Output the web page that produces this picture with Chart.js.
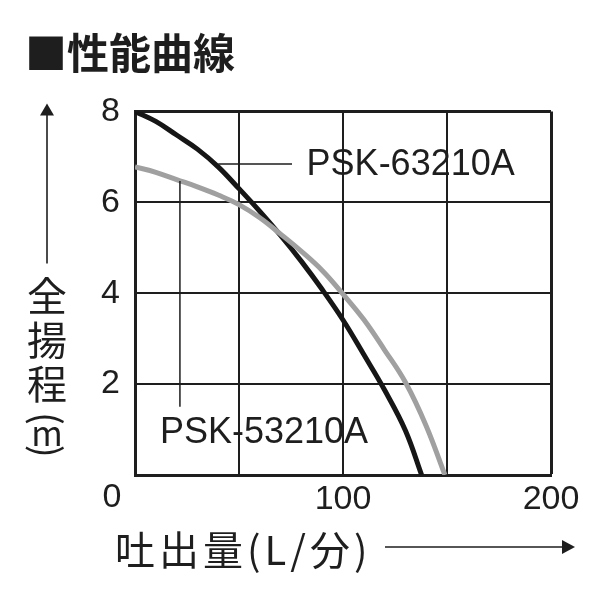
<!DOCTYPE html>
<html lang="ja">
<head>
<meta charset="utf-8">
<title>性能曲線</title>
<script src="https://cdn.jsdelivr.net/npm/chart.js@4.4.1/dist/chart.umd.min.js"></script>
<style>
  html, body { margin: 0; padding: 0; background: #fff; }
  #chart { display: block; }
</style>
</head>
<body>
<canvas id="chart" width="600" height="600"></canvas>
<script>
// 性能曲線 - pump performance curves (head vs. flow)

const seriesNames = ['PSK-63210A', 'PSK-53210A'];

// PSK-63210A (black)
const flow63 = [0, 10, 20, 30, 40, 50, 60, 70, 80, 90, 100, 110, 120, 130, 137.8];
const head63 = [8.0, 7.78, 7.48, 7.17, 6.78, 6.3, 5.8, 5.27, 4.7, 4.08, 3.41, 2.65, 1.87, 0.98, 0];

// PSK-53210A (grey)
const flow53 = [0, 10, 20, 30, 40, 50, 60, 70, 80, 90, 100, 110, 120, 130, 140, 149];
const head53 = [6.78, 6.66, 6.5, 6.34, 6.16, 5.95, 5.66, 5.3, 4.92, 4.5, 3.98, 3.42, 2.75, 2.04, 1.08, 0];

const xTickLabels = [0, 100, 200];
const yTickLabels = [2, 4, 6, 8];

// label anchors, in data units
const leader63 = { x1: 40, x2: 75.5, y: 6.84 };
const label63 = { x: 82.5, y: 6.82 };
const leader53 = { x: 21.6, y1: 6.47, y2: 1.5 };
const label53 = { x: 12, y: 0.92 };

const INK = '#1e1e1e';
const NUM_FONT = '"Liberation Sans", Arial, Helvetica, sans-serif';
const JP_FONT = '"Noto Sans CJK JP", "Noto Sans CJK SC", sans-serif';

function toPoints(xs, ys) {
    return xs.map((v, i) => ({ x: v, y: ys[i] }));
}

const decorations = {
    id: 'decorations',
    afterDatasetsDraw(chart) {
        const { ctx, scales: { x, y } } = chart;
        ctx.save();

        // leader lines
        ctx.strokeStyle = INK;
        ctx.lineWidth = 1.5;
        ctx.beginPath();
        ctx.moveTo(x.getPixelForValue(leader63.x1), y.getPixelForValue(leader63.y));
        ctx.lineTo(x.getPixelForValue(leader63.x2), y.getPixelForValue(leader63.y));
        ctx.moveTo(x.getPixelForValue(leader53.x), y.getPixelForValue(leader53.y1));
        ctx.lineTo(x.getPixelForValue(leader53.x), y.getPixelForValue(leader53.y2));
        ctx.stroke();

        // model names
        ctx.fillStyle = INK;
        ctx.font = '36px ' + NUM_FONT;
        ctx.textAlign = 'left';
        ctx.textBaseline = 'middle';
        ctx.fillText(seriesNames[0], x.getPixelForValue(label63.x), y.getPixelForValue(label63.y));
        ctx.fillText(seriesNames[1], x.getPixelForValue(label53.x), y.getPixelForValue(label53.y));

        ctx.restore();
    },
    afterDraw(chart) {
        const { ctx, chartArea: a } = chart;
        ctx.save();
        ctx.fillStyle = INK;
        ctx.strokeStyle = INK;

        // shared corner "0", set to the left of the origin
        ctx.font = '34px ' + NUM_FONT;
        ctx.textAlign = 'center';
        ctx.textBaseline = 'middle';
        ctx.fillText(String(xTickLabels[0]), a.left - 23, a.bottom + 23);

        // y axis title, stacked vertically
        const yx = a.left - 88;
        ctx.font = '40px ' + JP_FONT;
        ['全', '揚', '程'].forEach((ch, i) => {
            ctx.fillText(ch, yx, a.top + 184 + i * 44);
        });
        ctx.font = '34px ' + JP_FONT;
        ctx.fillText('m', yx, a.top + 322);
        [['(', 307], [')', 340]].forEach(([ch, dy]) => {
            ctx.save();
            ctx.translate(yx, a.top + dy);
            ctx.rotate(Math.PI / 2);
            ctx.font = '38px ' + JP_FONT;
            ctx.fillText(ch, 0, 0);
            ctx.restore();
        });

        // y arrow
        ctx.lineWidth = 1.6;
        ctx.beginPath();
        ctx.moveTo(yx, a.top + 152);
        ctx.lineTo(yx, a.top - 2);
        ctx.stroke();
        ctx.beginPath();
        ctx.moveTo(yx, a.top - 8);
        ctx.lineTo(yx - 7, a.top + 4);
        ctx.lineTo(yx + 7, a.top + 4);
        ctx.closePath();
        ctx.fill();

        // x axis title
        ctx.font = '40px ' + JP_FONT;
        ctx.textAlign = 'left';
        ctx.letterSpacing = '4px';
        ctx.fillText('吐出量(L/分)', a.left - 20, a.bottom + 75);
        ctx.letterSpacing = '0px';

        // x arrow
        const ay = a.bottom + 72;
        ctx.beginPath();
        ctx.moveTo(a.left + 250, ay);
        ctx.lineTo(a.left + 430, ay);
        ctx.stroke();
        ctx.beginPath();
        ctx.moveTo(a.left + 440, ay);
        ctx.lineTo(a.left + 427, ay - 7);
        ctx.lineTo(a.left + 427, ay + 7);
        ctx.closePath();
        ctx.fill();

        ctx.restore();
    }
};

new Chart(document.getElementById('chart'), {
    type: 'line',
    data: {
        datasets: [
            {
                label: seriesNames[1],
                data: toPoints(flow53, head53),
                borderColor: '#a0a0a0',
                borderWidth: 5,
                pointRadius: 0,
                tension: 0.4,
                order: 0
            },
            {
                label: seriesNames[0],
                data: toPoints(flow63, head63),
                borderColor: '#161616',
                borderWidth: 5,
                pointRadius: 0,
                tension: 0.4,
                order: 1
            }
        ]
    },
    options: {
        responsive: false,
        animation: false,
        layout: { padding: { left: 25, right: 49, top: 0, bottom: 0 } },
        plugins: {
            legend: { display: false },
            tooltip: { enabled: false },
            title: {
                display: true,
                text: '■性能曲線',
                align: 'start',
                color: INK,
                font: { family: JP_FONT, size: 42, weight: 'bold' },
                padding: { top: 28, bottom: 33 }
            }
        },
        scales: {
            x: {
                type: 'linear',
                min: 0,
                max: 200,
                afterFit(scale) { scale.height = 125; },
                grid: {
                    color: INK,
                    lineWidth: c => (c.tick && c.tick.value === 200 ? 3 : 2),
                    drawTicks: false
                },
                border: { color: INK, width: 3 },
                ticks: {
                    stepSize: 50,
                    padding: 4,
                    color: INK,
                    font: { family: NUM_FONT, size: 34 },
                    maxRotation: 0,
                    callback: v => (v !== 0 && xTickLabels.includes(v) ? String(v) : '')
                }
            },
            y: {
                min: 0,
                max: 8,
                afterFit(scale) { scale.width = 110; },
                grid: {
                    color: INK,
                    lineWidth: c => (c.tick && c.tick.value === 8 ? 3 : 2),
                    drawTicks: false
                },
                border: { color: INK, width: 3 },
                ticks: {
                    stepSize: 2,
                    padding: 15,
                    color: INK,
                    font: { family: NUM_FONT, size: 34 },
                    callback: v => (yTickLabels.includes(v) ? String(v) : '')
                }
            }
        }
    },
    plugins: [decorations]
});
</script>
</body>
</html>
